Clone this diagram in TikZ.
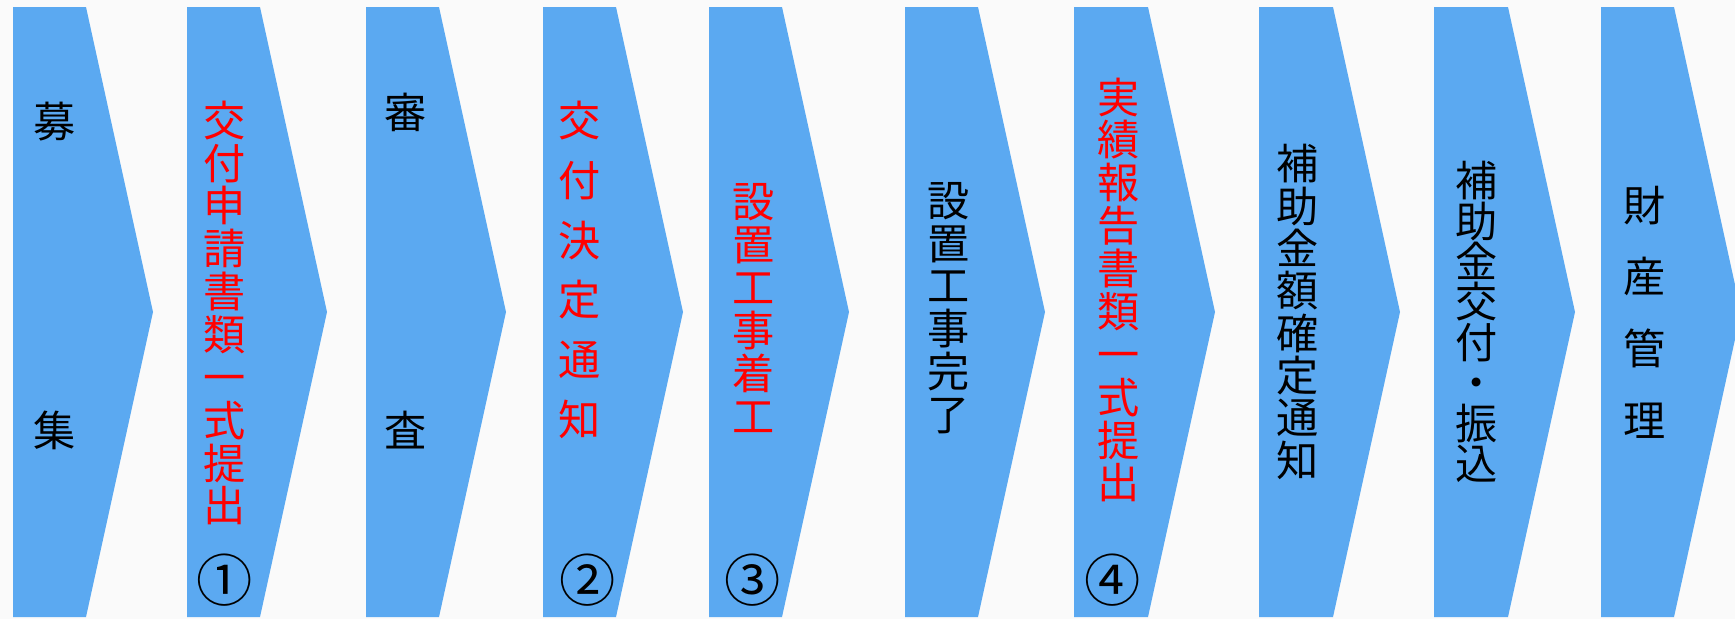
\documentclass[tikz,border=0pt]{standalone}
\usepackage{fontspec}
\usepackage{xcolor}
\newfontfamily\jpfont{Noto Sans CJK JP}
\definecolor{stepblue}{RGB}{91,169,241}
\definecolor{paper}{RGB}{250,250,250}
\tikzset{
  stage/.style={fill=stepblue},
  tate/.style={align=center,inner sep=0pt,font=\jpfont\fontsize{24}{#1}\selectfont},
  tate/.default=24.4pt,
  num/.style={inner sep=0pt,font=\jpfont\fontsize{32}{32}\selectfont},
}

\begin{document}
\begin{tikzpicture}[x=.02cm,y=-.02cm]
  \fill[paper] (0,0) rectangle (1735,619);
  \useasboundingbox (0,0) rectangle (1735,619);
  \fill[stage]
    (13,7) -- ++(73,0) -- ++(67,305) -- ++(-67,305) -- ++(-73,0) -- cycle
    (187,7) -- ++(73,0) -- ++(67,305) -- ++(-67,305) -- ++(-73,0) -- cycle
    (366,7) -- ++(73,0) -- ++(67,305) -- ++(-67,305) -- ++(-73,0) -- cycle
    (543,7) -- ++(73,0) -- ++(67,305) -- ++(-67,305) -- ++(-73,0) -- cycle
    (709,7) -- ++(73,0) -- ++(67,305) -- ++(-67,305) -- ++(-73,0) -- cycle
    (905,7) -- ++(73,0) -- ++(67,305) -- ++(-67,305) -- ++(-73,0) -- cycle
    (1074,7) -- ++(74,0) -- ++(67,305) -- ++(-67,305) -- ++(-74,0) -- cycle
    (1259,7) -- ++(74,0) -- ++(67,305) -- ++(-67,305) -- ++(-74,0) -- cycle
    (1434,7) -- ++(74,0) -- ++(67,305) -- ++(-67,305) -- ++(-74,0) -- cycle
    (1601,7) -- ++(73,0) -- ++(67,305) -- ++(-67,305) -- ++(-73,0) -- cycle;

  \path (55,276) node (bo) [tate=175.7pt] {募\\集}
    (225,313) node (ks) [tate,red] {交\\付\\申\\請\\書\\類\\一\\式\\提\\出}
    (406,271) node (sn) [tate=181.4pt] {審\\査}
    (580,270) node (kt) [tate=34pt,red] {交\\付\\決\\定\\通\\知}
    (754,308) node (sc) [tate,red] {設\\置\\工\\事\\着\\工}
    (949,308) node (sk) [tate] {設\\置\\工\\事\\完\\了}
    (1119,290) node (jh) [tate,red] {実\\績\\報\\告\\書\\類\\一\\式\\提\\出}
    (1298,312) node (kk) [tate=24.1pt] {補\\助\\金\\額\\確\\定\\通\\知}
    (1477,322) node (kf) [tate=23pt] {補\\助\\金\\交\\付\\・\\振\\込}
    (1645,312) node (zk) [tate=40.8pt] {財\\産\\管\\理};

  \path (225,580) node (n1) [num] {①}
    (588,580) node (n2) [num] {②}
    (753,580) node (n3) [num] {③}
    (1113,580) node (n4) [num] {④};
\end{tikzpicture}
\end{document}
